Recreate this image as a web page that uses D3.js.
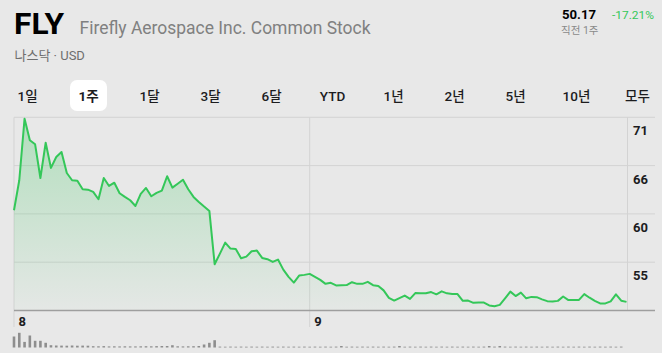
<!DOCTYPE html>
<html>
<head>
<meta charset="utf-8">
<script src="https://cdn.jsdelivr.net/npm/d3@7"></script>
<style>
  html, body { margin: 0; padding: 0; background: #e8e8e8; }
  svg { display: block; }
  text { font-family: "Roboto", "Liberation Sans", "Noto Sans CJK KR", sans-serif; }
</style>
</head>
<body>
<svg id="chart" width="662" height="353"></svg>
<script>
// ---------------- DATA ----------------
const ticker = "FLY";
const companyName = "Firefly Aerospace Inc. Common Stock";
const exchangeLabel = "나스닥 · USD";
const lastPrice = "50.17";
const changePct = "-17.21%";
const periodLabel = "직전 1주";
const tabs = ["1일", "1주", "1달", "3달", "6달", "YTD", "1년", "2년", "5년", "10년", "모두"];
const selectedTab = "1주";

// price series (one value per interval)
const prices = [
  60.74, 64.05, 70.85, 68.46, 68.02, 64.30, 68.20, 65.41, 66.62, 67.17,
  64.85, 64.05, 64.00, 63.05, 63.01, 62.76, 61.95, 64.30, 63.42, 63.78,
  62.61, 62.21, 61.84, 61.21, 62.54, 63.20, 62.28, 62.65, 62.90, 64.49,
  63.23, 63.67, 64.11, 63.05, 62.21, 61.65, 61.14, 60.66, 54.78, 55.95,
  57.16, 56.50, 56.47, 55.44, 55.62, 56.21, 56.28, 55.47, 55.33, 55.03,
  55.29, 54.18, 53.38, 52.75, 53.52, 53.60, 53.71, 53.38, 53.05, 52.61,
  52.72, 52.44, 52.46, 52.47, 52.79, 52.61, 52.61, 52.83, 52.46, 52.38,
  51.89, 51.06, 50.76, 51.03, 51.31, 50.95, 51.59, 51.58, 51.58, 51.70,
  51.45, 51.78, 51.56, 51.50, 51.48, 50.73, 50.76, 50.51, 50.54, 50.54,
  50.23, 50.14, 50.29, 51.01, 51.75, 51.26, 51.64, 51.01, 51.17, 51.14,
  50.90, 50.70, 50.65, 50.73, 51.21, 50.82, 50.84, 50.84, 51.48, 51.08,
  50.73, 50.45, 50.45, 50.68, 51.45, 50.75, 50.62
];

// volume series (millions of shares, one per interval)
const volumes = [
  2.20, 2.94, 1.12, 2.40, 1.34, 1.34, 0.94, 0.46, 0.40, 0.38,
  0.36, 0.40, 0.36, 0.38, 0.36, 0.26, 0.24, 0.28, 0.22, 0.24,
  0.22, 0.24, 0.22, 0.22, 0.24, 0.26, 0.24, 0.28, 0.30, 0.30,
  0.46, 0.24, 0.22, 0.24, 0.26, 0.30, 0.60, 0.94, 1.46, 0.18,
  0.16, 0.18, 0.16, 0.18, 0.16, 0.18, 0.16, 0.18, 0.16, 0.18,
  0.16, 0.18, 0.16, 0.18, 0.16, 0.18, 0.16, 0.18, 0.16, 0.18,
  0.16, 0.18, 0.30, 0.16, 0.18, 0.16, 0.18, 0.16, 0.18, 0.16,
  0.18, 0.16, 0.18, 0.30, 0.16, 0.18, 0.16, 0.18, 0.16, 0.18,
  0.16, 0.18, 0.16, 0.18, 0.16, 0.18, 0.16, 0.18, 0.16, 0.18,
  0.30, 0.18, 0.30, 0.18, 0.16, 0.18, 0.16, 0.18, 0.16, 0.18,
  0.16, 0.18, 0.16, 0.18, 0.16, 0.18, 0.16, 0.18, 0.16, 0.18,
  0.16, 0.18, 0.16, 0.18, 0.16, 0.18, 0.00
];

// axis ticks
const yTickValues = [55, 60.333, 65.667, 71];
const yTickLabels = ["55", "60", "66", "71"];
const xTickIndex = [0, 56];
const xTickLabels = ["8", "9"];

// ---------------- DRAW ----------------
const svg = d3.select("#chart");
const W = 662, H = 353;
const green = "#34c759";

svg.append("rect").attr("width", W).attr("height", H).attr("fill", "#e8e8e8");

// Header
svg.append("text").attr("x", 14).attr("y", 34.3)
  .attr("font-size", 30).attr("font-weight", 700).attr("fill", "#000")
  .attr("textLength", 50).attr("lengthAdjust", "spacingAndGlyphs")
  .text(ticker);
svg.append("text").attr("x", 79.5).attr("y", 34)
  .attr("font-size", 19).attr("fill", "#808080")
  .attr("textLength", 291).attr("lengthAdjust", "spacingAndGlyphs")
  .text(companyName);
svg.append("text").attr("x", 14.5).attr("y", 59.5)
  .attr("font-size", 13).attr("fill", "#6e6e6e")
  .text(exchangeLabel);
svg.append("text").attr("x", 562).attr("y", 19)
  .attr("font-size", 13.5).attr("font-weight", 700).attr("fill", "#000")
  .attr("textLength", 34).attr("lengthAdjust", "spacingAndGlyphs")
  .text(lastPrice);
svg.append("text").attr("x", 612).attr("y", 19)
  .attr("font-size", 11.5).attr("fill", green)
  .attr("textLength", 42).attr("lengthAdjust", "spacingAndGlyphs")
  .text(changePct);
svg.append("text").attr("x", 561).attr("y", 34)
  .attr("font-size", 10.5).attr("fill", "#8a8a8a")
  .text(periodLabel);

// Tabs
const tabX = d3.scaleLinear().domain([0, tabs.length - 1]).range([27.5, 637.5]);
const tabG = svg.append("g");
tabs.forEach((t, i) => {
  if (t === selectedTab) {
    tabG.append("rect").attr("x", tabX(i) - 18.5).attr("y", 80)
      .attr("width", 37).attr("height", 31).attr("rx", 7).attr("fill", "#fff");
  }
});
tabG.selectAll("text.tab").data(tabs).join("text")
  .attr("class", "tab")
  .attr("x", (d, i) => tabX(i)).attr("y", 101)
  .attr("text-anchor", "middle")
  .attr("font-size", 13.5)
  .attr("font-weight", d => d === selectedTab ? 700 : 500)
  .attr("fill", "#1c1c1e")
  .text(d => d);

// Scales
const x = d3.scaleLinear().domain([0, prices.length - 1]).range([14, 626.5]);
const y = d3.scaleLinear().domain([49.667, 71]).range([310.5, 117.3]);
const vY = d3.scaleLinear().domain([0, 3]).range([347.5, 332.5]);

// Gradient
const defs = svg.append("defs");
const grad = defs.append("linearGradient").attr("id", "areaGrad")
  .attr("gradientUnits", "userSpaceOnUse")
  .attr("x1", 0).attr("x2", 0).attr("y1", y(71)).attr("y2", y(49.667));
grad.append("stop").attr("offset", 0).attr("stop-color", green).attr("stop-opacity", 0.30);
grad.append("stop").attr("offset", 1).attr("stop-color", green).attr("stop-opacity", 0.02);

// Horizontal gridlines
svg.append("g").selectAll("line").data(yTickValues).join("line")
  .attr("x1", 14).attr("x2", 655)
  .attr("y1", d => y(d)).attr("y2", d => y(d))
  .attr("stroke", "#d3d3d3").attr("stroke-width", 1);

// Vertical gridlines at day ticks
svg.append("g").selectAll("line").data(xTickIndex).join("line")
  .attr("x1", d => x(d)).attr("x2", d => x(d))
  .attr("y1", y(71)).attr("y2", 327)
  .attr("stroke", "#d3d3d3").attr("stroke-width", 1);
// right border
svg.append("line").attr("x1", 627.5).attr("x2", 627.5)
  .attr("y1", y(71)).attr("y2", y(49.667))
  .attr("stroke", "#d3d3d3").attr("stroke-width", 1);

// Area + line
const area = d3.area().x((d, i) => x(i)).y0(y(49.667)).y1(d => y(d));
const line = d3.line().x((d, i) => x(i)).y(d => y(d));
svg.append("path").datum(prices).attr("d", area).attr("fill", "url(#areaGrad)");
svg.append("path").datum(prices).attr("d", line)
  .attr("fill", "none").attr("stroke", green).attr("stroke-width", 2)
  .attr("stroke-linejoin", "round");

// Bottom axis line
svg.append("line").attr("x1", 14).attr("x2", 655)
  .attr("y1", y(49.667)).attr("y2", y(49.667))
  .attr("stroke", "#9e9e9e").attr("stroke-width", 1.5);

// Y labels
svg.append("g").selectAll("text").data(yTickValues).join("text")
  .attr("x", 633).attr("y", d => y(d) + 18)
  .attr("font-size", 13).attr("font-weight", 700).attr("fill", "#1c1c1e")
  .text((d, i) => yTickLabels[i]);

// X labels
svg.append("g").selectAll("text").data(xTickIndex).join("text")
  .attr("x", d => x(d) + 4.5).attr("y", 325.5)
  .attr("font-size", 13).attr("font-weight", 700).attr("fill", "#1c1c1e")
  .text((d, i) => xTickLabels[i]);

// Volume bars
svg.append("g").selectAll("rect").data(volumes).join("rect")
  .attr("x", (d, i) => x(i) - 1.3).attr("width", 2.6)
  .attr("y", d => vY(d)).attr("height", d => vY(0) - vY(d))
  .attr("fill", "#8e8e8e");
</script>
</body>
</html>
